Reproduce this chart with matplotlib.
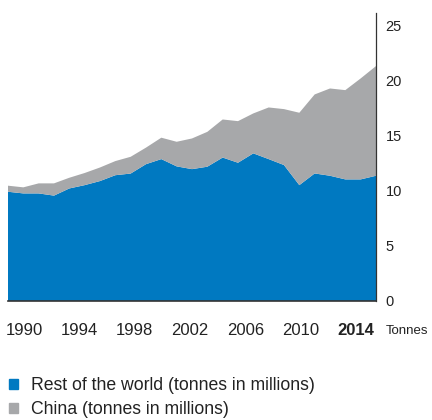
import matplotlib
matplotlib.use("Agg")
import matplotlib.pyplot as plt
from matplotlib.patches import Patch
import numpy as np

plt.rcParams['font.family'] = ['Liberation Sans', 'DejaVu Sans']

years = list(range(1990, 2015))
rest_of_world = [9.9, 9.75, 9.75, 9.55, 10.2, 10.5, 10.87, 11.4, 11.55, 12.4, 12.86,
                 12.2, 11.95, 12.17, 13.0, 12.53, 13.38, 12.86, 12.32, 10.5, 11.56,
                 11.35, 11.02, 11.02, 11.35]
china = [0.55, 0.55, 0.91, 1.11, 0.97, 1.1, 1.23, 1.28, 1.52, 1.5, 1.94, 2.23,
         2.78, 3.16, 3.45, 3.77, 3.62, 4.68, 5.07, 6.56, 7.16, 7.91, 8.09, 9.15, 9.94]
tick_labels = ["1990", "1994", "1998", "2002", "2006", "2010", "2014"]
y_ticks = [0, 5, 10, 15, 20, 25]
legend_labels = ["Rest of the world (tonnes in millions)", "China (tonnes in millions)"]

BLUE = "#0079C1"
GREY = "#A7A8AA"

fig = plt.figure(figsize=(4.32, 4.20), dpi=100)
ax = fig.add_axes([8/432, 1 - 301/420, (376 - 8)/432, (301 - 13)/420])

ax.stackplot(years, rest_of_world, china, colors=[BLUE, GREY], linewidth=0)
ax.set_xlim(years[0], years[-1])
ax.set_ylim(0, 26.1)

for s in ["top", "left"]:
    ax.spines[s].set_visible(False)
ax.spines["right"].set_color("#333333")
ax.spines["right"].set_linewidth(0.9)
ax.spines["bottom"].set_color("#333333")
ax.spines["bottom"].set_linewidth(1.2)

ax.yaxis.tick_right()
ax.set_yticks(y_ticks)
ax.set_yticklabels([str(v) for v in y_ticks])
ax.tick_params(axis="y", length=0, pad=7, labelsize=10.5, labelcolor="#222222")

# x tick label positions (evenly spaced as in the original layout)
xpos = np.linspace(1991.04, 2012.7, len(tick_labels))
ax.set_xticks(xpos)
ax.set_xticklabels(tick_labels)
ax.tick_params(axis="x", length=0, pad=16, labelsize=12, labelcolor="#222222")
ax.get_xticklabels()[-1].set_fontweight("bold")

fig.text(386/432, 1 - 331/420, "Tonnes", fontsize=9.5, color="#222222",
         ha="left", va="center")

handles = [Patch(color=BLUE), Patch(color=GREY)]
fig.legend(handles, legend_labels, loc="upper left", bbox_to_anchor=(-0.012, 1 - 363/420),
           frameon=False, fontsize=12.7, handlelength=0.5, handleheight=0.5,
           handletextpad=0.75, labelspacing=0.38, borderpad=0.3, labelcolor="#222222")

fig.savefig("out.png", dpi=100)
